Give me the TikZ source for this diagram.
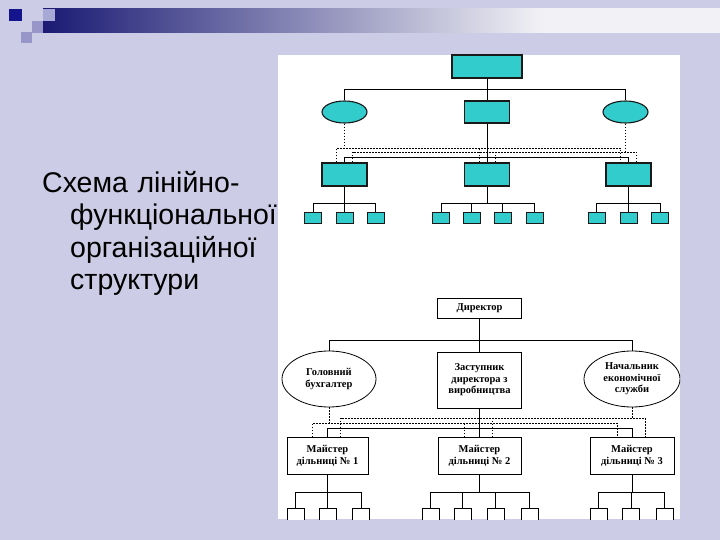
\documentclass[tikz,border=0pt]{standalone}
\usepackage{fontspec}
\setmainfont{Liberation Sans}
\newfontfamily\orgfont{Liberation Serif}
\usetikzlibrary{shapes.geometric,positioning,calc}

\definecolor{slidebg}{RGB}{204,204,230}
\definecolor{barnavy}{RGB}{26,26,116}
\definecolor{barend}{RGB}{242,242,246}
\definecolor{markblue}{RGB}{20,20,140}
\definecolor{marklight}{RGB}{168,168,214}
\definecolor{markmid}{RGB}{150,150,200}
\definecolor{unitcyan}{RGB}{51,204,204}
\pgfdeclarehorizontalshading{titlebar}{100bp}{color(0bp)=(barnavy); color(25bp)=(barnavy);
  color(62bp)=(barend); color(100bp)=(barend)}

\begin{document}
\begin{tikzpicture}[
  x=1pt, y=-1pt,
  cbox/.style={draw=black!90, fill=unitcyan, line width=1.1pt, inner sep=0pt, minimum width=45pt, minimum height=22pt},
  cell/.style={cbox, ellipse},
  cleaf/.style={cbox, line width=0.9pt, minimum width=17pt, minimum height=11pt},
  wbox/.style={draw, fill=white, line width=0.8pt, align=center, inner sep=1pt,
               font=\orgfont\bfseries\fontsize{10.5}{11.5}\selectfont},
  well/.style={wbox, ellipse, minimum width=94pt, minimum height=56pt},
  mbox/.style={wbox, minimum height=37pt, font=\orgfont\bfseries\fontsize{10.5}{12.5}\selectfont},
  wleaf/.style={draw, fill=white, line width=0.8pt, inner sep=0pt, minimum width=17pt, minimum height=14pt},
  link/.style={line width=0.8pt},
  aux/.style={line width=0.8pt, dash pattern=on 1.6pt off 1.4pt},
]
\useasboundingbox (0,0) rectangle (720,540);

% ---- slide background and title bar ------------------------------------------
\fill[slidebg] (0,0) rectangle (720,540);
\shade[shading=titlebar] (43,9) rectangle (720,33);
\fill[markblue] (9,9) rectangle (22,21);
\fill[marklight] (43,9) rectangle (55,21);
\fill[markmid] (32,21) rectangle (43,33);
\fill[markmid] (21,32) rectangle (32,43);

\node[anchor=north west, text width=270pt, align=left, inner sep=0pt,
      font=\fontsize{28.5}{32.5}\selectfont] (title) at (42,171)
  {Схема лінійно-\\\hspace*{28pt}функціональної\\\hspace*{28pt}організаційної\\\hspace*{28pt}структури};

% ---- white panel ----------------------------------------------------------------
\fill[white] (278,55) rectangle (680,519);

\begin{scope}
\clip (278,55) rectangle (680,519);

% ---- upper scheme: shapes only ------------------------------------------------
\node[cbox, minimum width=70pt, minimum height=23pt] (utop) at (487,66.5) {};
\node[cell] (uL) at (344.5,112) {};
\node[cbox] (uC) at (487,112) {};
\node[cell] (uR) at (625.5,112) {};
\node[cbox, minimum height=23pt] (uM1) at (344.5,174.5) {};
\node[cbox, minimum height=23pt] (uM2) at (487,174.5) {};
\node[cbox, minimum height=23pt] (uM3) at (628.5,174.5) {};

\node[cleaf] (ua1) at (313,217.5) {};   \node[cleaf] (ua2) at (344.5,217.5) {}; \node[cleaf] (ua3) at (375.5,217.5) {};
\node[cleaf] (ub1) at (441,217.5) {};   \node[cleaf] (ub2) at (471.5,217.5) {}; \node[cleaf] (ub3) at (502.5,217.5) {};
\node[cleaf] (ub4) at (534.5,217.5) {};
\node[cleaf] (uc1) at (596.5,217.5) {}; \node[cleaf] (uc2) at (628.5,217.5) {}; \node[cleaf] (uc3) at (660,217.5) {};

\coordinate (utopbus) at (0,89);
\coordinate (udotA) at (0,148);
\coordinate (udotB) at (0,152);
\coordinate (ulinebus) at (0,157);
\coordinate (uleafbus) at (0,203);

\draw[link] (utop) -- (uC);
\draw[link] (uL.north) -- (uL.north |- utopbus) -- (uR.north |- utopbus) -- (uR.north);
\draw[link] (uC) -- (uM2);
\draw[link] (uM1.north) -- (uM1.north |- ulinebus) -- (uM3.north |- ulinebus) -- (uM3.north);
% staff links of the two ellipses
\draw[aux] (uL.south) -- (uL.south |- udotA);
\draw[aux] ([xshift=-8pt]uM1.north) -- ([xshift=-8pt]uM1.north |- udotA) -- ([xshift=-8pt]uM3.north |- udotA) -- ([xshift=-8pt]uM3.north);
\draw[aux] ([xshift=-8pt]uM2.north) -- ([xshift=-8pt]uM2.north |- udotA);
\draw[aux] (uR.south) -- (uR.south |- udotB);
\draw[aux] ([xshift=8pt]uM1.north) -- ([xshift=8pt]uM1.north |- udotB) -- ([xshift=8pt]uM3.north |- udotB) -- ([xshift=8pt]uM3.north);
\draw[aux] ([xshift=8pt]uM2.north) -- ([xshift=8pt]uM2.north |- udotB);

\draw[link] (uM1.south) -- (uM1.south |- uleafbus);
\draw[link] (ua1.north) |- (uleafbus -| ua3.north) -- (ua3.north);
\draw[link] (ua2.north) -- (ua2.north |- uleafbus);
\draw[link] (uM2.south) -- (uM2.south |- uleafbus);
\draw[link] (ub1.north) |- (uleafbus -| ub4.north) -- (ub4.north);
\draw[link] (ub2.north) -- (ub2.north |- uleafbus);
\draw[link] (ub3.north) -- (ub3.north |- uleafbus);
\draw[link] (uM3.south) -- (uM3.south |- uleafbus);
\draw[link] (uc1.north) |- (uleafbus -| uc3.north) -- (uc3.north);
\draw[link] (uc2.north) -- (uc2.north |- uleafbus);

% ---- lower scheme: the named units ------------------------------------------------
\node[wbox, minimum width=84pt, minimum height=20pt] (dir) at (479.5,308) {Директор};
\node[well] (acct) at (329,379) {Головний\\бухгалтер};
\node[wbox, minimum width=84pt, minimum height=56pt] (depty) at (479.5,380) {Заступник\\директора з\\виробництва};
\node[well, minimum width=96pt] (econ) at (632,379) {Начальник\\економічної\\служби};
\node[mbox, minimum width=81pt] (m1) at (327.5,456) {Майстер\\дільниці №~1};
\node[mbox, minimum width=83pt] (m2) at (479.5,456) {Майстер\\дільниці №~2};
\node[mbox, minimum width=84pt] (m3) at (632,456) {Майстер\\дільниці №~3};

\node[wleaf] (la1) at (295.5,515) {}; \node[wleaf] (la2) at (327.5,515) {}; \node[wleaf] (la3) at (361,515) {};
\node[wleaf] (lb1) at (430.5,515) {}; \node[wleaf] (lb2) at (462.5,515) {}; \node[wleaf] (lb3) at (495.5,515) {};
\node[wleaf] (lb4) at (529.5,515) {};
\node[wleaf] (lc1) at (598.5,515) {}; \node[wleaf] (lc2) at (631,515) {};   \node[wleaf] (lc3) at (664.5,515) {};

\coordinate (ltopbus) at (0,340);
\coordinate (ldotR) at (0,418);
\coordinate (ldotL) at (0,423);
\coordinate (llinebus) at (0,428);
\coordinate (lleafbus) at (0,492);

\draw[link] (dir) -- (depty);
\draw[link] (acct.north) -- (acct.north |- ltopbus) -- (econ.north |- ltopbus) -- (econ.north);
\draw[link] (depty) -- (m2);
\draw[link] (m1.north) -- (m1.north |- llinebus) -- (m3.north |- llinebus) -- (m3.north);
% functional links: accountant and economist to every foreman
\draw[aux] (acct.south) -- (acct.south |- ldotL);
\draw[aux] ([xshift=-15pt]m1.north) -- ([xshift=-15pt]m1.north |- ldotL) -- ([xshift=-15pt]m3.north |- ldotL) -- ([xshift=-15pt]m3.north);
\draw[aux] ([xshift=-15pt]m2.north) -- ([xshift=-15pt]m2.north |- ldotL);
\draw[aux] (econ.south) -- (econ.south |- ldotR);
\draw[aux] ([xshift=13pt]m1.north) -- ([xshift=13pt]m1.north |- ldotR) -- ([xshift=13pt]m3.north |- ldotR) -- ([xshift=13pt]m3.north);
\draw[aux] ([xshift=13pt]m2.north) -- ([xshift=13pt]m2.north |- ldotR);

\draw[link] (m1.south) -- (m1.south |- lleafbus);
\draw[link] (la1.north) |- (lleafbus -| la3.north) -- (la3.north);
\draw[link] (la2.north) -- (la2.north |- lleafbus);
\draw[link] (m2.south) -- (m2.south |- lleafbus);
\draw[link] (lb1.north) |- (lleafbus -| lb4.north) -- (lb4.north);
\draw[link] (lb2.north) -- (lb2.north |- lleafbus);
\draw[link] (lb3.north) -- (lb3.north |- lleafbus);
\draw[link] (m3.south) -- (m3.south |- lleafbus);
\draw[link] (lc1.north) |- (lleafbus -| lc3.north) -- (lc3.north);
\draw[link] (lc2.north) -- (lc2.north |- lleafbus);
\end{scope}

\end{tikzpicture}
\end{document}
